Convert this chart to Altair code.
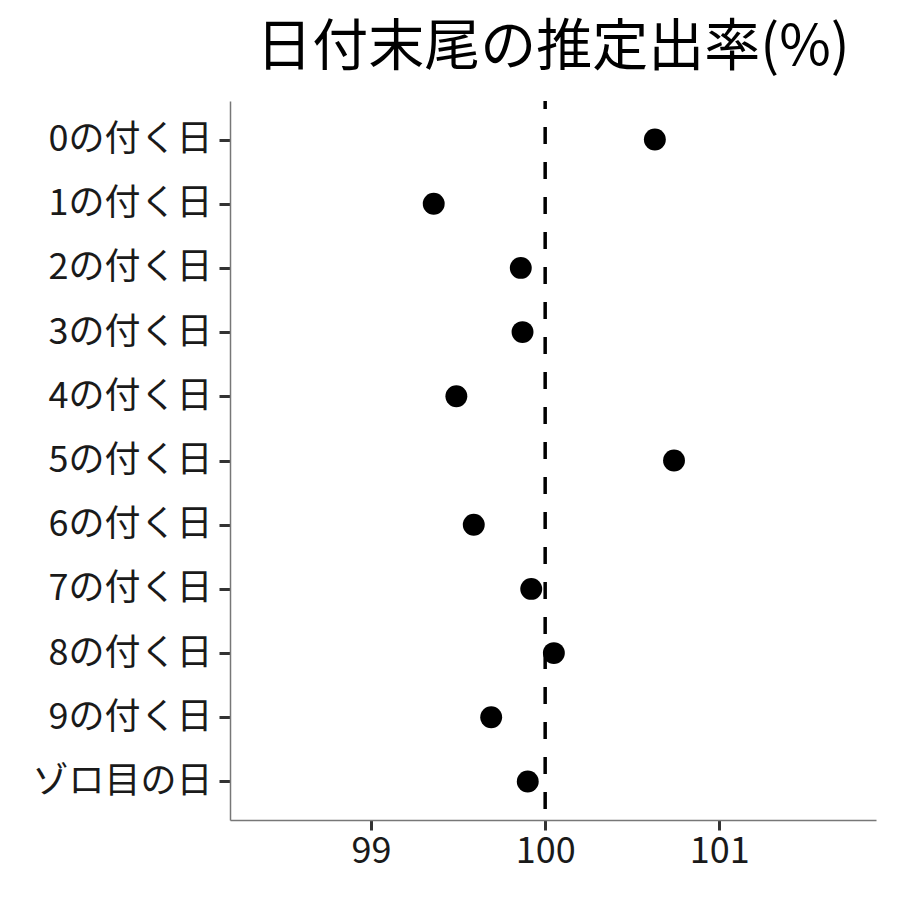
import altair as alt
import pandas as pd

categories = ["0の付く日", "1の付く日", "2の付く日", "3の付く日", "4の付く日",
              "5の付く日", "6の付く日", "7の付く日", "8の付く日", "9の付く日", "ゾロ目の日"]
values = [100.63, 99.36, 99.86, 99.87, 99.49, 100.74, 99.59, 99.92, 100.05, 99.69, 99.90]
ref_value = [100]
x_ticks = [99, 100, 101]

df = pd.DataFrame({"cat": categories, "val": values})
ref = pd.DataFrame({"x": ref_value})

FONT = "Noto Sans CJK JP"

xscale = alt.Scale(domain=[98.19, 101.9], nice=False, zero=False)
yscale = alt.Scale(domain=categories, padding=0.6)

points = alt.Chart(df).mark_point(filled=True, size=480, color="black", opacity=1).encode(
    x=alt.X("val:Q", scale=xscale,
            axis=alt.Axis(title=None, values=x_ticks, format="d", grid=False, domainColor="#777777",
                          domainWidth=1.5, tickColor="#333333", tickWidth=3, tickSize=10,
                          labelFontSize=36, labelColor="#1a1a1a", labelFont=FONT, labelPadding=4)),
    y=alt.Y("cat:O", scale=yscale, sort=categories,
            axis=alt.Axis(title=None, grid=False, domainColor="#777777", domainWidth=1.5,
                          tickColor="#333333", tickWidth=3, tickSize=11, labelFontSize=36,
                          labelLimit=400,
                          labelColor="#1a1a1a", labelFont=FONT, labelPadding=7)),
)

rule = alt.Chart(ref).mark_rule(color="black", strokeWidth=3.5, strokeDash=[17, 18],
                                strokeDashOffset=9).encode(
    x=alt.X("x:Q", scale=xscale)
)

chart = alt.layer(rule, points).properties(
    width=646, height=719,
    title=alt.TitleParams("日付末尾の推定出率(%)", font=FONT, fontSize=56, fontWeight="normal",
                          color="black", anchor="middle", offset=22),
    padding={"left": 222, "top": 93, "right": 16, "bottom": 72},
    autosize=alt.AutoSizeParams(type="none"),
).configure(background="white").configure_view(stroke=None, strokeWidth=0)

chart.save("out.html", embed_options={"renderer": "svg", "actions": False})
